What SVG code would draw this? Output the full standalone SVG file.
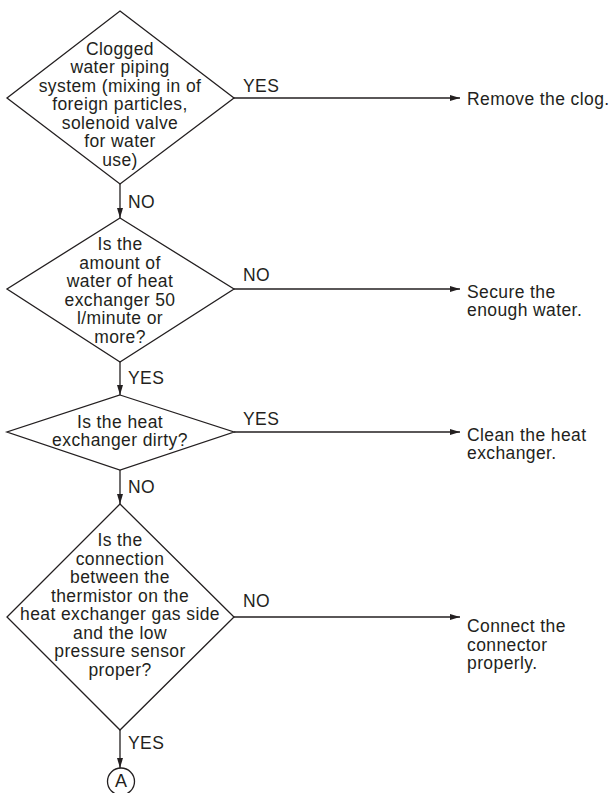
<svg xmlns="http://www.w3.org/2000/svg" width="613" height="793" viewBox="0 0 613 793">
<style>
.shape{fill:none;stroke:#231f20;stroke-width:1.3}
.line{fill:none;stroke:#231f20;stroke-width:1.3}
text{font-family:"Liberation Sans",Arial,sans-serif;font-size:17.5px;fill:#231f20;letter-spacing:0.4px}
.c{text-anchor:middle}
</style>
<defs>
<marker id="arr" viewBox="0 0 10 6" refX="10" refY="3" markerWidth="10" markerHeight="6" markerUnits="userSpaceOnUse" orient="auto">
<path d="M0,0 L10,3 L0,6 Z" fill="#231f20"/>
</marker>
</defs>
<rect width="613" height="793" fill="#fff"/>
<g id="d1">
<polygon class="shape" points="120,11 234,98 120,184 7,98"/>
<text class="c" x="120" y="54.5">Clogged</text>
<text class="c" x="120" y="73">water piping</text>
<text class="c" x="120" y="91.5">system (mixing in of</text>
<text class="c" x="120" y="110">foreign particles,</text>
<text class="c" x="120" y="128.5">solenoid valve</text>
<text class="c" x="120" y="147">for water</text>
<text class="c" x="120" y="165.5">use)</text>
</g>
<g id="r1"><text x="467" y="105">Remove the clog.</text></g>
<g id="d2">
<polygon class="shape" points="120,218 234,289 120,362 7,289"/>
<text class="c" x="120" y="250">Is the</text>
<text class="c" x="120" y="268.5">amount of</text>
<text class="c" x="120" y="287">water of heat</text>
<text class="c" x="120" y="305.5">exchanger 50</text>
<text class="c" x="120" y="324">l/minute or</text>
<text class="c" x="120" y="342.5">more?</text>
</g>
<g id="r2"><text x="467" y="297.5">Secure the</text><text x="467" y="316">enough water.</text></g>
<g id="d3">
<polygon class="shape" points="120,395 234,432 120,470 7,432"/>
<text class="c" x="120" y="427.5">Is the heat</text>
<text class="c" x="120" y="446">exchanger dirty?</text>
</g>
<g id="r3"><text x="467" y="440.5">Clean the heat</text><text x="467" y="459">exchanger.</text></g>
<g id="d4">
<polygon class="shape" points="120,504 234,617 120,730 7,617"/>
<text class="c" x="120" y="546">Is the</text>
<text class="c" x="120" y="564.5">connection</text>
<text class="c" x="120" y="583">between the</text>
<text class="c" x="120" y="601.5">thermistor on the</text>
<text class="c" x="120" y="620">heat exchanger gas side</text>
<text class="c" x="120" y="638.5">and the low</text>
<text class="c" x="120" y="657">pressure sensor</text>
<text class="c" x="120" y="675.5">proper?</text>
</g>
<g id="r4"><text x="467" y="632">Connect the</text><text x="467" y="650.5">connector</text><text x="467" y="669">properly.</text></g>
<g id="A">
<circle class="shape" cx="121" cy="781.5" r="13.5"/>
<text class="c" x="121" y="787" style="letter-spacing:0;font-size:18px">A</text>
</g>
<g id="connectors">
<line class="line" x1="234" y1="98" x2="460" y2="98" marker-end="url(#arr)"/>
<line class="line" x1="120" y1="184" x2="120" y2="218" marker-end="url(#arr)"/>
<line class="line" x1="234" y1="289" x2="460" y2="289" marker-end="url(#arr)"/>
<line class="line" x1="120" y1="362" x2="120" y2="395" marker-end="url(#arr)"/>
<line class="line" x1="234" y1="432" x2="460" y2="432" marker-end="url(#arr)"/>
<line class="line" x1="120" y1="470" x2="120" y2="504" marker-end="url(#arr)"/>
<line class="line" x1="234" y1="617" x2="460" y2="617" marker-end="url(#arr)"/>
<line class="line" x1="120" y1="730" x2="120" y2="768" marker-end="url(#arr)"/>
<text x="243" y="91.5">YES</text>
<text x="128" y="207.5">NO</text>
<text x="243" y="281">NO</text>
<text x="128" y="384">YES</text>
<text x="243" y="424.5">YES</text>
<text x="128" y="493">NO</text>
<text x="243" y="607">NO</text>
<text x="128" y="748.5">YES</text>
</g>
</svg>
